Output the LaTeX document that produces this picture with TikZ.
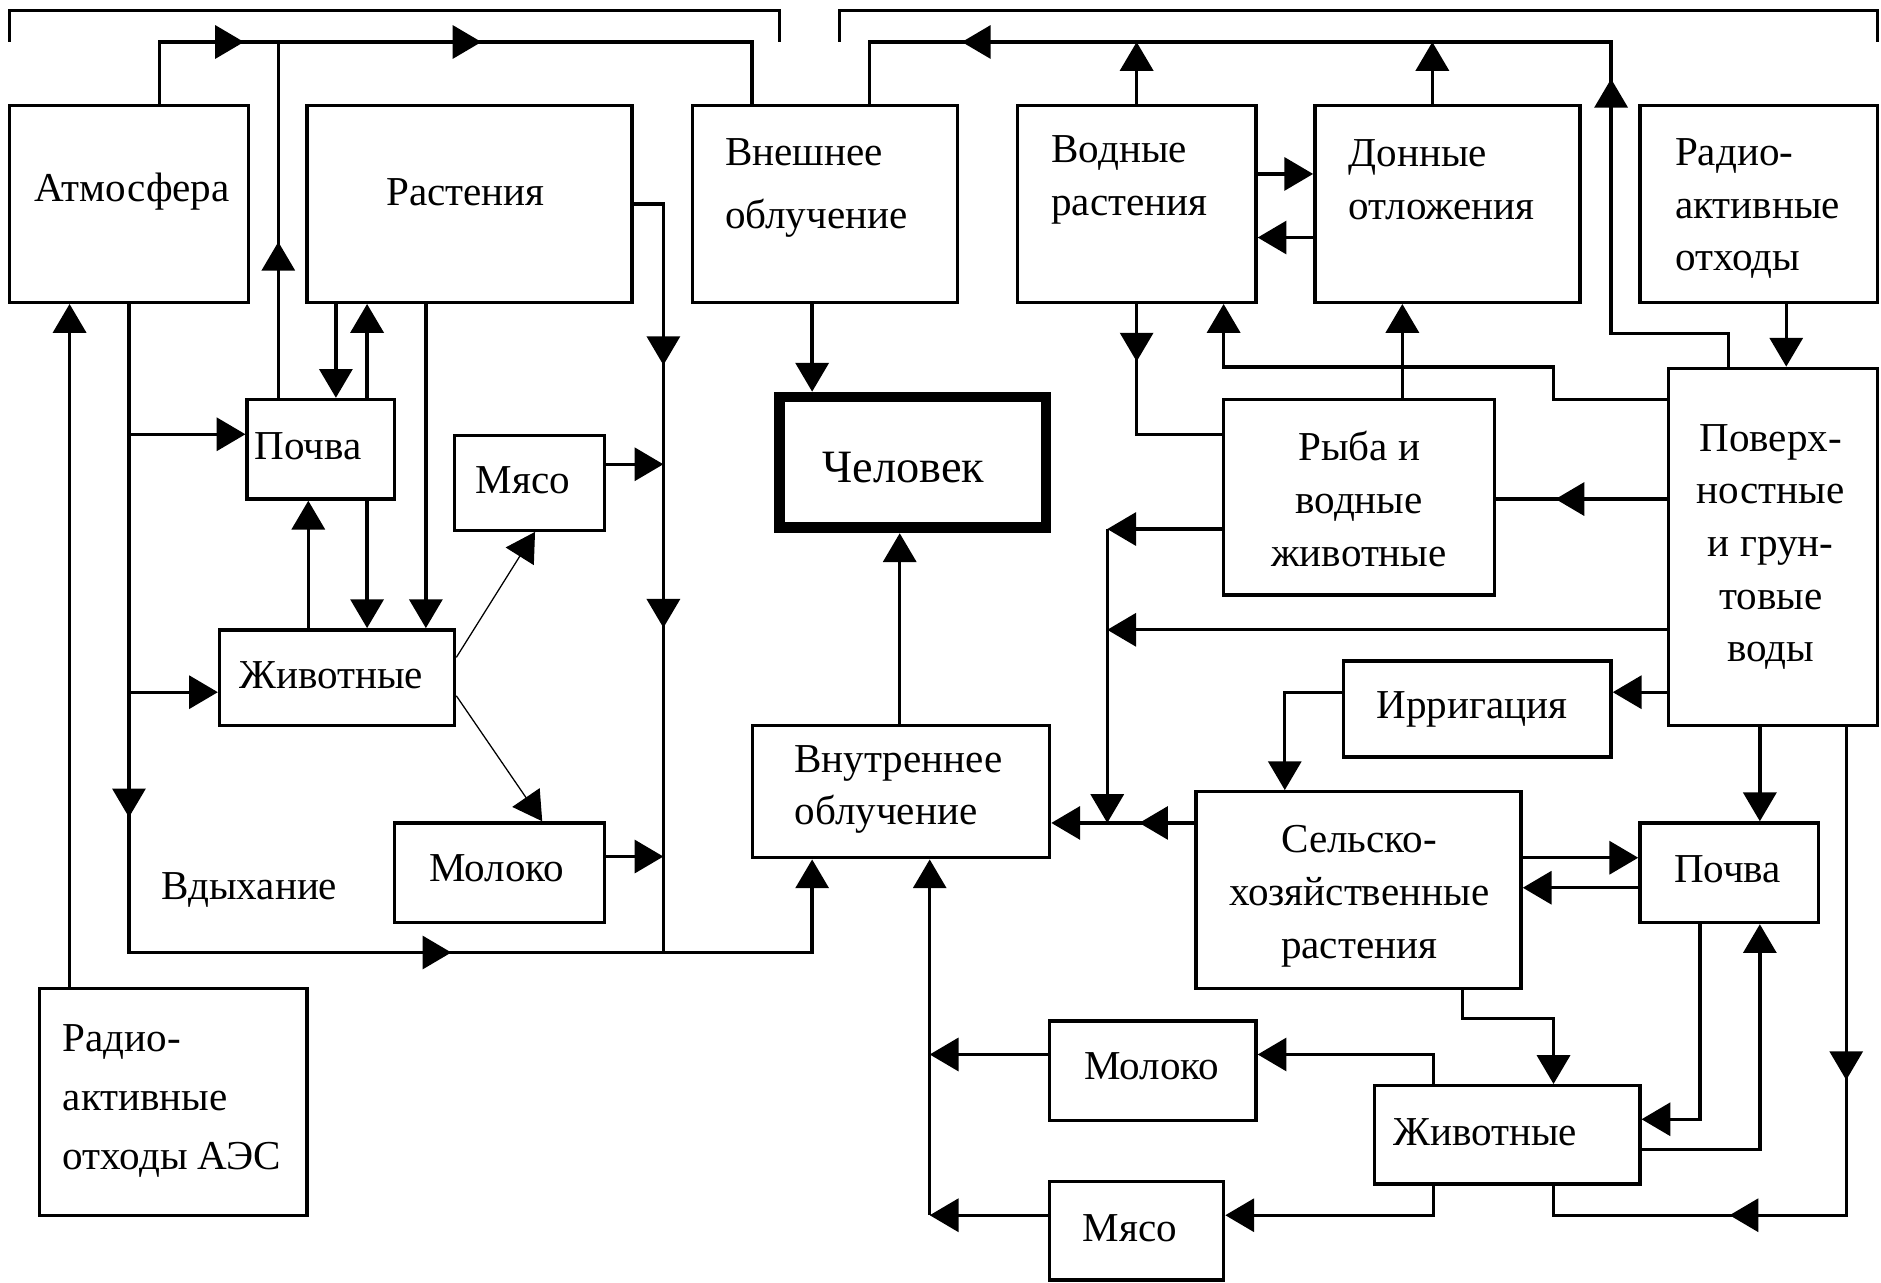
\documentclass[tikz,border=0pt]{standalone}
\usepackage{fontspec}
\setmainfont{Liberation Serif}
\usetikzlibrary{arrows.meta,decorations.markings}

\tikzset{
	>={Triangle[length=0.48cm,width=0.55cm]},
	box/.style={draw, line width=1.6pt, inner sep=0pt},
	link/.style={line width=1.6pt},
	thinlink/.style={line width=0.6pt},
	txt/.style={font=\fontsize{19.5}{25}\selectfont, inner sep=0pt, align=center},
	midtip/.style={postaction={decorate,decoration={markings,mark=at position #1 with {\arrow{>}}}}},
}

\begin{document}
\begin{tikzpicture}[x=0.02cm, y=-0.02cm]
			%%%%% START %%%%%
			\useasboundingbox (0,0) rectangle (1568,1069);
			
			% top brackets
			\draw[link] (8,35) |- (650,9) -- (650,35);
			\draw[link] (700,35) |- (1565,9) -- (1565,35);
			
			% boxes
			\node[box, minimum width=3.98cm, minimum height=3.28cm] (atm) at (107.5,170) {};
			\node[box, minimum width=5.42cm, minimum height=3.28cm] (pl) at (391.5,170) {};
			\node[box, minimum width=4.42cm, minimum height=3.28cm] (ext) at (687.5,170) {};
			\node[box, minimum width=3.98cm, minimum height=3.28cm] (wpl) at (947.5,170) {};
			\node[box, minimum width=4.42cm, minimum height=3.28cm] (sed) at (1206.5,170) {};
			\node[box, minimum width=3.96cm, minimum height=3.28cm] (rw) at (1466,170) {};
			
			\node[box, minimum width=2.46cm, minimum height=1.66cm] (soil) at (267.5,374.5) {};
			\node[box, minimum width=2.50cm, minimum height=1.58cm] (meat) at (441.5,402.5) {};
			\node[draw, line width=0.18cm, inner sep=0pt, minimum width=4.44cm, minimum height=2.18cm] (man) at (761,385.5) {};
			\node[box, minimum width=3.92cm, minimum height=1.60cm] (anim) at (281,565) {};
			\node[box, minimum width=3.50cm, minimum height=1.66cm] (milk) at (416.5,727.5) {};
			\node[box, minimum width=4.96cm, minimum height=2.20cm] (inr) at (751,660) {};
			\node[box, minimum width=4.46cm, minimum height=3.78cm] (npp) at (144.5,918.5) {};
			
			\node[box, minimum width=4.52cm, minimum height=3.26cm] (fish) at (1133,414.5) {};
			\node[box, minimum width=3.48cm, minimum height=5.96cm] (wat) at (1478,456) {};
			\node[box, minimum width=4.46cm, minimum height=1.60cm] (irr) at (1231.5,591) {};
			\node[box, minimum width=5.42cm, minimum height=3.28cm] (agr) at (1132.5,742) {};
			\node[box, minimum width=2.98cm, minimum height=1.66cm] (soil2) at (1441.5,727.5) {};
			\node[box, minimum width=3.44cm, minimum height=1.66cm] (milk2) at (961,892.5) {};
			\node[box, minimum width=4.42cm, minimum height=1.64cm] (anim2) at (1256.5,946) {};
			\node[box, minimum width=2.90cm, minimum height=1.64cm] (meat2) at (947.5,1026) {};
			
			% texts
			\node[txt] (atm-t) at (110,160) {Атмосфера};
			\node[txt] (pl-t) at (388,160) {Растения};
			\node[txt, align=left, anchor=west, font=\fontsize{19.5}{30}\selectfont] (ext-t) at (604,157) {Внешнее\\облучение};
			\node[txt, align=left, anchor=west] (wpl-t) at (876,150) {Водные\\растения};
			\node[txt, align=left, anchor=west] (sed-t) at (1124,150) {Донные\\отложения};
			\node[txt, align=left, anchor=west] (rw-t) at (1396,174) {Радио-\\активные\\отходы};
			\node[txt, anchor=west] (soil-t) at (212,372) {Почва};
			\node[txt] (meat-t) at (436,400) {Мясо};
			\node[txt, font=\fontsize{22}{25}\selectfont] (man-t) at (753,390) {Человек};
			\node[txt] (anim-t) at (276,563) {Животные};
			\node[txt] (milk-t) at (414,724) {Молоко};
			\node[txt] (inh-t) at (208,742) {Вдыхание};
			\node[txt, align=left, anchor=west] (inr-t) at (662,658) {Внутреннее\\облучение};
			\node[txt, align=left, anchor=west, font=\fontsize{19.5}{28}\selectfont] (npp-t) at (52,918) {Радио-\\активные\\отходы АЭС};
			\node[txt] (fish-t) at (1133,416) {Рыба и\\водные\\животные};
			\node[txt] (wat-t) at (1476,456) {Поверх-\\ностные\\и грун-\\товые\\воды};
			\node[txt] (irr-t) at (1227,591) {Ирригация};
			\node[txt] (agr-t) at (1133,747) {Сельско-\\хозяйственные\\растения};
			\node[txt] (soil2-t) at (1440,725) {Почва};
			\node[txt] (milk2-t) at (960,889) {Молоко};
			\node[txt] (anim2-t) at (1238,944) {Животные};
			\node[txt] (meat2-t) at (942,1024) {Мясо};
			
			% junctions
			\coordinate (railL) at (627,35);
			\coordinate (railR) at (1343,35);
			\coordinate (jr) at (553,794);
			\coordinate (trunk) at (923,686);
			\coordinate (feed) at (775,1013);
			
			% left half
			\draw[link, midtip=2.44cm, midtip=6.4cm] (133,0 |- atm.north) |- (railL) -- (railL |- ext.north);
			\draw[link, midtip=2.6cm] (232,0 |- soil.north) -- (232,0 |- railL);
			\draw[link, ->] (280,0 |- pl.south) -- (280,0 |- soil.north);
			\draw[link, ->] (306,0 |- soil.north) -- (306,0 |- pl.south);
			\draw[link, ->] (355,0 |- pl.south) -- (355,0 |- anim.north);
			\draw[link, ->] (306,0 |- soil.south) -- (306,0 |- anim.north);
			\draw[link, ->] (257,0 |- anim.north) -- (257,0 |- soil.south);
			\draw[link, ->, midtip=8.56cm, midtip=16.19cm] (atm.south) -- (atm.south |- jr) -| (677,0 |- inr.south);
			\draw[link, ->] (atm.south |- 0,362) -- (soil.west |- 0,362);
			\draw[link, ->] (atm.south |- 0,577) -- (anim.west |- 0,577);
			\draw[link, midtip=3.18cm, midtip=7.56cm] (pl.east) -| (jr);
			\draw[link, ->] (meat.east |- 0,387) -- (jr |- 0,387);
			\draw[link, ->] (milk.east |- 0,714) -- (jr |- 0,714);
			\draw[thinlink, ->] (anim.east |- 0,548) -- (446,0 |- meat.south);
			\draw[thinlink, ->] (anim.east |- 0,580) -- (452,0 |- milk.north);
			\draw[link, ->] (58,0 |- npp.north) -- (58,0 |- atm.south);
			
			% man
			\draw[link, ->] (677,0 |- ext.south) -- (677,0 |- man.north);
			\draw[link, ->] (750,0 |- inr.north) -- (750,0 |- man.south);
			
			% right half
			\draw[link, midtip=6.76cm, midtip=18.2cm] (1441,0 |- wat.north) |- (1343,278) -- (railR) -- (725,35) -- (725,0 |- ext.north);
			\draw[link, ->] (wpl.north) -- (wpl.north |- railR);
			\draw[link, ->] (1194,0 |- sed.north) -- (1194,0 |- railR);
			\draw[link, ->] (wpl.east |- 0,145) -- (sed.west |- 0,145);
			\draw[link, ->] (sed.west |- 0,198) -- (wpl.east |- 0,198);
			\draw[link, ->] (1489,0 |- rw.south) -- (1489,0 |- wat.north);
			\draw[link, midtip=0.96cm] (wpl.south) |- (fish.west |- 0,362);
			\draw[link, ->] (wat.west |- 0,333) -| (1295,306) -| (1020,0 |- wpl.south);
			\draw[link, ->] (1169,0 |- fish.north) -- (1169,0 |- sed.south);
			\draw[link, midtip=1.86cm] (wat.west |- 0,416) -- (fish.east |- 0,416);
			\draw[link, ->] (fish.west |- 0,441) -- (trunk |- 0,441);
			\draw[link, ->] (trunk |- 0,441) -- (trunk);
			\draw[link, ->] (wat.west |- 0,525) -- (trunk |- 0,525);
			\draw[link, ->, midtip=0.92cm] (agr.west |- trunk) -- (inr.east |- trunk);
			\draw[link, ->] (wat.west |- 0,577) -- (irr.east |- 0,577);
			\draw[link, ->] (irr.west |- 0,577) -| (1071,0 |- agr.north);
			\draw[link, ->] (1467,0 |- wat.south) -- (1467,0 |- soil2.north);
			\draw[link, ->] (agr.east |- 0,715) -- (soil2.west |- 0,715);
			\draw[link, ->] (soil2.west |- 0,740) -- (agr.east |- 0,740);
			\draw[link, midtip=5.88cm, midtip=10.08cm] (1539,0 |- wat.south) |- (1295,1013) -- (1295,0 |- anim2.south);
			\draw[link, ->] (1417,0 |- soil2.south) |- (anim2.east |- 0,933);
			\draw[link, ->] (anim2.east |- 0,958) -| (1467,0 |- soil2.south);
			\draw[link, ->] (1219,0 |- agr.south) |- (1295,849) -- (1295,0 |- anim2.north);
			\draw[link, ->] (1195,0 |- anim2.north) |- (milk2.east |- 0,879);
			\draw[link, ->] (1195,0 |- anim2.south) |- (meat2.east |- feed);
			\draw[link, ->] (milk2.west |- 0,879) -- (feed |- 0,879);
			\draw[link, ->] (meat2.west |- feed) -- (feed);
			\draw[link, ->] (feed) -- (feed |- inr.south);
			
			%%%%% END %%%%%
\end{tikzpicture}
\end{document}
